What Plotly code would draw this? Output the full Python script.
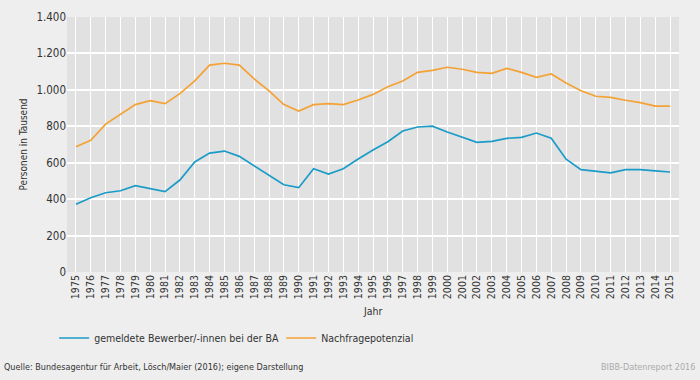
import plotly.graph_objects as go

years = list(range(1975, 2016))
bewerber = [372, 408, 435, 446, 474, 457, 441, 505, 604, 653, 664, 635, 584, 529, 479, 463,
            567, 538, 567, 620, 670, 715, 774, 796, 801, 769, 741, 712, 717, 734, 739, 763,
            734, 619, 562, 555, 544, 562, 562, 555, 549]
nachfrage = [688, 723, 812, 867, 919, 941, 924, 979, 1049, 1136, 1146, 1136, 1060, 994, 919, 884,
             919, 924, 919, 944, 975, 1017, 1049, 1096, 1107, 1124, 1113, 1096, 1091, 1118, 1096, 1069,
             1087, 1038, 995, 965, 959, 943, 930, 911, 911]
y_ticks = [0, 200, 400, 600, 800, 1000, 1200, 1400]
y_labels = ["0", "200", "400", "600", "800", "1.000", "1.200", "1.400"]
series_names = ["gemeldete Bewerber/-innen bei der BA", "Nachfragepotenzial"]
x_title = "Jahr"
y_title = "Personen in Tausend"
source_text = "Quelle: Bundesagentur für Arbeit, Lösch/Maier (2016); eigene Darstellung"
brand_text = "BIBB-Datenreport 2016"

FONT = "DejaVu Sans Condensed, Liberation Sans Narrow, Roboto, sans-serif"
TXT = "#333333"

fig = go.Figure()
fig.add_trace(go.Scatter(x=years, y=bewerber, mode="lines", name=series_names[0],
                         line=dict(color="#1b9bc8", width=1.7)))
fig.add_trace(go.Scatter(x=years, y=nachfrage, mode="lines", name=series_names[1],
                         line=dict(color="#f4a235", width=1.7)))

fig.update_layout(
    width=700, height=380,
    margin=dict(l=67, r=21, t=17, b=108, autoexpand=False),
    paper_bgcolor="#eeeeee",
    plot_bgcolor="#e1e1e1",
    font=dict(family=FONT, size=11, color=TXT),
    showlegend=True,
    legend=dict(orientation="h", x=-0.021, y=-0.2588, xanchor="left", yanchor="middle",
                font=dict(size=10.5, color=TXT), bgcolor="rgba(0,0,0,0)",
                entrywidth=182, entrywidthmode="pixels"),
    xaxis=dict(range=[1974.4, 2015.6], tickmode="array", tickvals=years,
               ticktext=[str(y) for y in years], tickangle=-90, automargin=False,
               showgrid=True, gridcolor="#ffffff", gridwidth=1, zeroline=False,
               showline=False, ticks="", tickfont=dict(size=10.5, color=TXT)),
    yaxis=dict(range=[0, 1400], tickmode="array", tickvals=y_ticks, ticktext=y_labels,
               showgrid=True, gridcolor="#ffffff", gridwidth=1.5, zeroline=False,
               showline=False, ticks="", tickfont=dict(size=11.5, color=TXT), automargin=False),
    annotations=[
        dict(text=x_title, xref="paper", yref="paper", x=0.5, y=-0.153,
             xanchor="center", yanchor="middle", showarrow=False,
             font=dict(size=10.5, color=TXT)),
        dict(text=y_title, xref="paper", yref="paper", x=-0.0703, y=0.5, textangle=-90,
             xanchor="center", yanchor="middle", showarrow=False,
             font=dict(size=10, color=TXT)),
        dict(text=source_text, xref="paper", yref="paper", x=-0.1062, y=-0.3725,
             xanchor="left", yanchor="middle", showarrow=False,
             font=dict(size=9, color=TXT)),
        dict(text=brand_text, xref="paper", yref="paper", x=1.0294, y=-0.3725,
             xanchor="right", yanchor="middle", showarrow=False,
             font=dict(size=9, color="#aaaaaa")),
    ],
)

fig.write_html("out.html", config={"displayModeBar": False},
               post_script="document.body.style.margin='0';document.body.style.background='#eeeeee';")
